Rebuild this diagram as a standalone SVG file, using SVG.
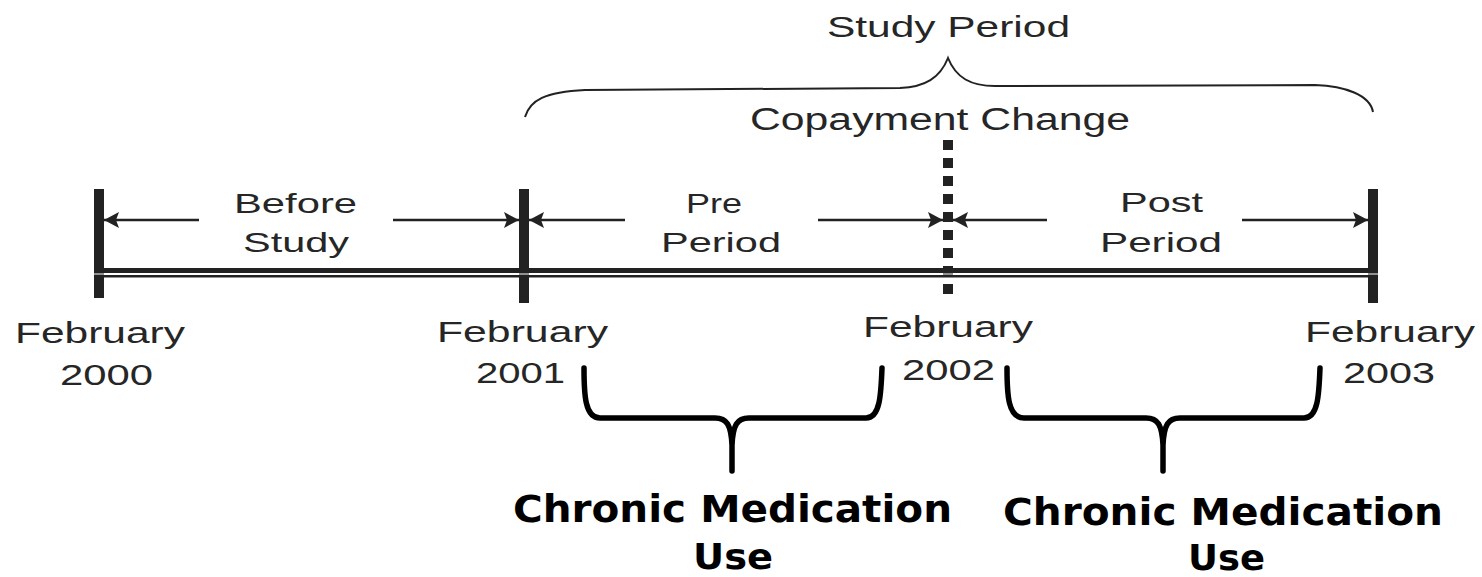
<svg xmlns="http://www.w3.org/2000/svg" width="1482" height="577" viewBox="0 0 1482 577">
<style>
.lbl{font-family:"Liberation Sans",Arial,sans-serif;fill:#262626;}
.big{font-family:"DejaVu Sans","Liberation Sans",sans-serif;font-weight:bold;fill:#000;}
.arr{stroke:#222;stroke-width:2.5;fill:none;}
.tick{fill:#222;}
.brace{stroke:#000;stroke-width:5.5;fill:none;stroke-linecap:round;stroke-linejoin:round;}
.thin{stroke:#222;stroke-width:2;fill:none;}
</style>
<defs>
<marker id="ah" viewBox="0 0 15 16" markerWidth="15" markerHeight="16" refX="15" refY="8" orient="auto" markerUnits="userSpaceOnUse">
<path d="M0,0 L15,8 L0,16 L3,8 z" fill="#222"/>
</marker>
</defs>
<rect width="1482" height="577" fill="#fff"/>

<g id="timeline">
<rect x="94" y="268" width="1284" height="5" fill="#222"/>
<rect x="94" y="275" width="1284" height="2.5" fill="#222"/>
<rect class="tick" x="94" y="189" width="10" height="109"/>
<rect class="tick" x="519" y="189" width="10" height="114"/>
<rect class="tick" x="1368" y="189" width="10" height="114"/>
<line x1="948" y1="140" x2="948" y2="294" stroke="#222" stroke-width="10" stroke-dasharray="10 8"/>
<line x1="94" y1="274" x2="1378" y2="274" stroke="#fff" stroke-width="1.2"/>
</g>

<g id="connectors">
<line class="arr" x1="199" y1="220" x2="104" y2="220" marker-end="url(#ah)"/>
<line class="arr" x1="393" y1="220" x2="519" y2="220" marker-end="url(#ah)"/>
<line class="arr" x1="625" y1="220" x2="529" y2="220" marker-end="url(#ah)"/>
<line class="arr" x1="818" y1="220" x2="943" y2="220" marker-end="url(#ah)"/>
<line class="arr" x1="1047" y1="220" x2="953" y2="220" marker-end="url(#ah)"/>
<line class="arr" x1="1242" y1="220" x2="1368" y2="220" marker-end="url(#ah)"/>
</g>

<g id="study-period">
<path class="thin" d="M525,117 C530,100 545,92 585,90 L900,88 C925,87 940,78 948,58 C956,78 971,86 995,86 L1315,85 C1345,86 1370,95 1373,112"/>
<text class="lbl" x="827" y="37" font-size="30" textLength="243" lengthAdjust="spacingAndGlyphs">Study Period</text>
</g>

<g id="copayment-change">
<text class="lbl" x="750" y="130" font-size="31" textLength="380" lengthAdjust="spacingAndGlyphs">Copayment Change</text>
</g>

<g id="before-study">
<text class="lbl" x="234" y="213" font-size="28" textLength="123" lengthAdjust="spacingAndGlyphs">Before</text>
<text class="lbl" x="243" y="252" font-size="28" textLength="106" lengthAdjust="spacingAndGlyphs">Study</text>
</g>

<g id="pre-period">
<text class="lbl" x="686" y="213" font-size="28" textLength="56" lengthAdjust="spacingAndGlyphs">Pre</text>
<text class="lbl" x="661" y="252" font-size="28" textLength="120" lengthAdjust="spacingAndGlyphs">Period</text>
</g>

<g id="post-period">
<text class="lbl" x="1120" y="212" font-size="28" textLength="83" lengthAdjust="spacingAndGlyphs">Post</text>
<text class="lbl" x="1100" y="252" font-size="28" textLength="122" lengthAdjust="spacingAndGlyphs">Period</text>
</g>

<g id="feb-2000">
<text class="lbl" x="15" y="343" font-size="29" textLength="170" lengthAdjust="spacingAndGlyphs">February</text>
<text class="lbl" x="60" y="385" font-size="29" textLength="93" lengthAdjust="spacingAndGlyphs">2000</text>
</g>

<g id="feb-2001">
<text class="lbl" x="437" y="342" font-size="29" textLength="171" lengthAdjust="spacingAndGlyphs">February</text>
<text class="lbl" x="476" y="383" font-size="29" textLength="89" lengthAdjust="spacingAndGlyphs">2001</text>
</g>

<g id="feb-2002">
<text class="lbl" x="863" y="337" font-size="29" textLength="170" lengthAdjust="spacingAndGlyphs">February</text>
<text class="lbl" x="902" y="380" font-size="29" textLength="93" lengthAdjust="spacingAndGlyphs">2002</text>
</g>

<g id="feb-2003">
<text class="lbl" x="1305" y="342" font-size="29" textLength="170" lengthAdjust="spacingAndGlyphs">February</text>
<text class="lbl" x="1343" y="383" font-size="29" textLength="92" lengthAdjust="spacingAndGlyphs">2003</text>
</g>

<g id="chronic-pre">
<path class="brace" d="M584,368 C584,395 585,418 600,418 L715,418 C727,418 731,425 732,445 L732,471 M732,445 C733,425 737,418 749,418 L866,418 C880,418 881,395 882,368"/>
<text class="big" x="513" y="522" font-size="37" textLength="439" lengthAdjust="spacingAndGlyphs">Chronic Medication</text>
<text class="big" x="693" y="569" font-size="36" textLength="80" lengthAdjust="spacingAndGlyphs">Use</text>
</g>

<g id="chronic-post">
<path class="brace" d="M1007,368 C1007,395 1008,418 1024,418 L1146,418 C1158,418 1162,425 1163,445 L1163,471 M1163,445 C1164,425 1168,418 1180,418 L1304,418 C1318,418 1319,395 1320,368"/>
<text class="big" x="1003" y="525" font-size="37" textLength="440" lengthAdjust="spacingAndGlyphs">Chronic Medication</text>
<text class="big" x="1188" y="570" font-size="36" textLength="77" lengthAdjust="spacingAndGlyphs">Use</text>
</g>
</svg>
